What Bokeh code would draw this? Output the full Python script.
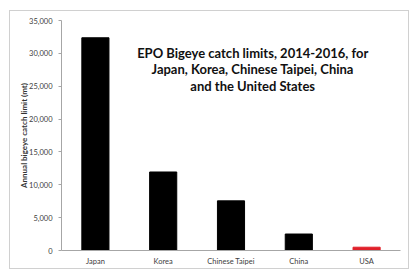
from bokeh.plotting import figure
from bokeh.models import Range1d, NumeralTickFormatter, SingleIntervalTicker, Label, ColumnDataSource
from bokeh.embed import file_html
from bokeh.resources import INLINE

countries = ["Japan", "Korea", "Chinese Taipei", "China", "USA"]
limits = [32372, 11947, 7555, 2507, 500]
bar_colors = ["#000000", "#000000", "#000000", "#000000", "#e0202a"]
title_lines = ["EPO Bigeye catch limits, 2014-2016, for",
               "Japan, Korea, Chinese Taipei, China",
               "and the United States"]
y_label = "Annual bigeye catch limit (mt)"

FONT = "Lato"

src = ColumnDataSource(dict(country=countries, limit=limits, color=bar_colors))

p = figure(width=398, height=257, x_range=countries, y_range=Range1d(0, 35000),
           output_backend="svg", toolbar_location=None,
           min_border_left=51, min_border_right=8, min_border_top=9, min_border_bottom=17)
p.styles = {"outline": "1px solid #d0d0d0", "margin-left": "10px", "margin-top": "11px"}
p.vbar(x="country", top="limit", width=0.4, color="color", source=src)

p.outline_line_color = None
p.xgrid.grid_line_color = None
p.ygrid.grid_line_color = None
p.background_fill_color = "white"
p.border_fill_color = "white"

ax = p.yaxis[0]
ax.ticker = SingleIntervalTicker(interval=5000)
ax.formatter = NumeralTickFormatter(format="0,0")
ax.axis_line_color = "#a6a6a6"
ax.major_tick_line_color = "#a6a6a6"
ax.major_tick_out = 3
ax.major_tick_in = 0
ax.minor_tick_line_color = None
ax.major_label_text_font = FONT
ax.major_label_text_font_size = "7.5px"
ax.major_label_text_color = "#404040"
ax.major_label_standoff = 5
ax.axis_label = y_label
ax.axis_label_text_font = FONT
ax.axis_label_text_font_size = "8px"
ax.axis_label_text_font_style = "bold"
ax.axis_label_text_color = "#333333"
ax.axis_label_standoff = -3

xa = p.xaxis[0]
xa.axis_line_color = "#a6a6a6"
xa.major_tick_line_color = None
xa.major_tick_out = 0
xa.major_tick_in = 0
xa.minor_tick_line_color = None
xa.major_label_text_font = FONT
xa.major_label_text_font_size = "7.5px"
xa.major_label_text_color = "#404040"
xa.major_label_standoff = 6

title_y = [30000, 27550, 25000]
for line, yv in zip(title_lines, title_y):
    p.add_layout(Label(x=2.82, y=yv, text=line, text_align="center", text_baseline="middle",
                       text_font=FONT, text_font_size="13px", text_font_style="bold",
                       text_color="#111111"))

open("out.html", "w").write(file_html(p, INLINE))
